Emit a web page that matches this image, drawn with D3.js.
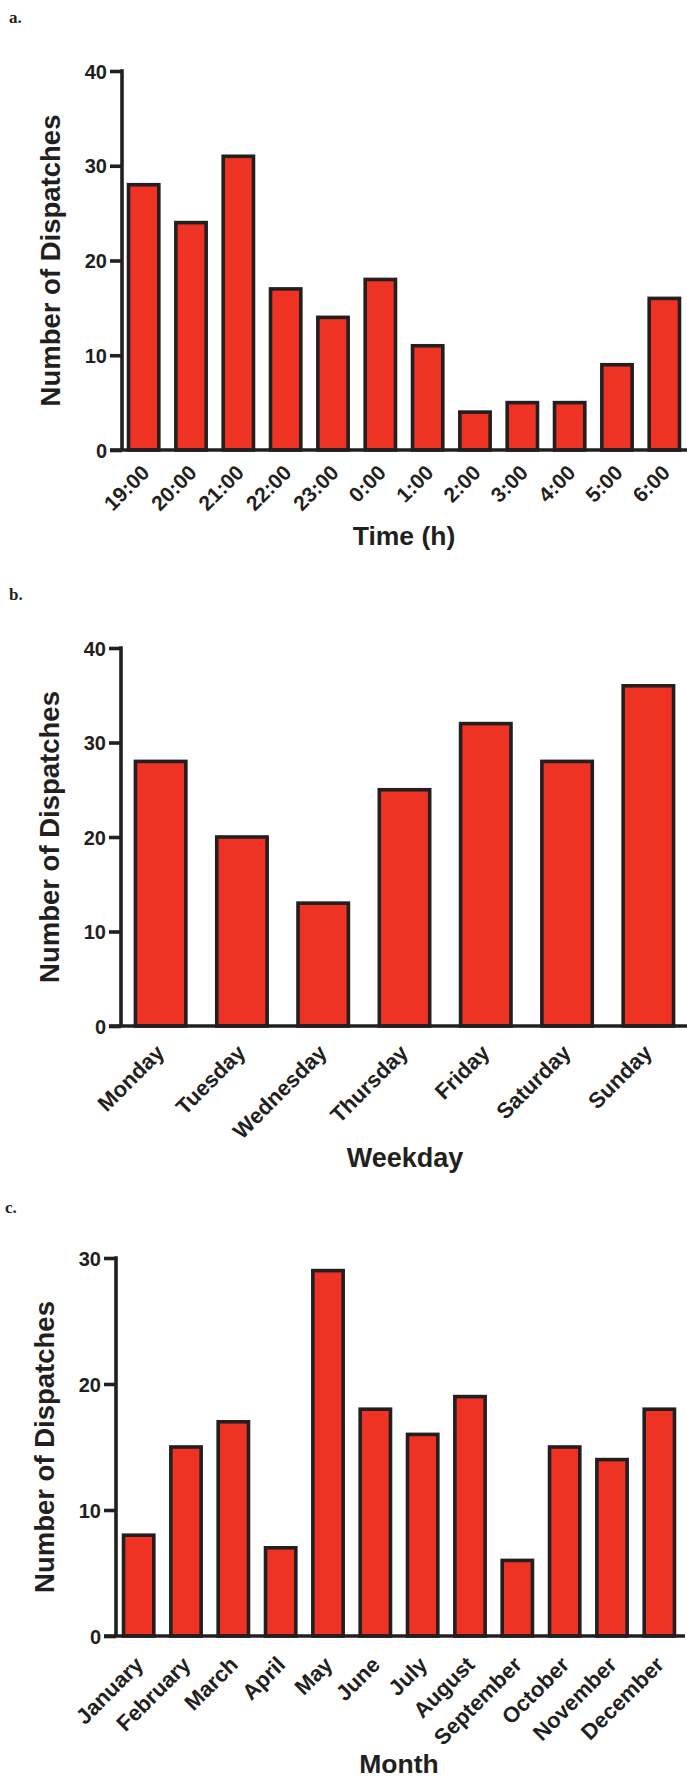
<!DOCTYPE html>
<html>
<head>
<meta charset="utf-8">
<script src="https://cdn.jsdelivr.net/npm/d3@7"></script>
<style>
  body { margin: 0; background: #fff; }
  svg text { font-family: "Liberation Sans", Arial, sans-serif; font-weight: bold; fill: #231f20; }
</style>
</head>
<body>
<div id="chart"></div>
<script>
// data
const hours = ["19:00", "20:00", "21:00", "22:00", "23:00", "0:00", "1:00", "2:00", "3:00", "4:00", "5:00", "6:00"];
const hourCounts = [28, 24, 31, 17, 14, 18, 11, 4, 5, 5, 9, 16];

const weekdays = ["Monday", "Tuesday", "Wednesday", "Thursday", "Friday", "Saturday", "Sunday"];
const weekdayCounts = [28, 20, 13, 25, 32, 28, 36];

const months = ["January", "February", "March", "April", "May", "June", "July", "August", "September", "October", "November", "December"];
const monthCounts = [8, 15, 17, 7, 29, 18, 16, 19, 6, 15, 14, 18];

const ticksA = [0, 10, 20, 30, 40];
const ticksB = [0, 10, 20, 30, 40];
const ticksC = [0, 10, 20, 30];

const W = 687, H = 1780;
const ink = "#231f20", red = "#ee3325";

const svg = d3.select("#chart").append("svg")
    .attr("width", W)
    .attr("height", H);

function panel(opt) {
    const g = svg.append("g");

    // panel letter
    g.append("text")
        .attr("x", opt.letterX).attr("y", opt.letterY)
        .text(opt.letter)
        .style("font-family", "'Liberation Serif', 'Times New Roman', serif")
        .style("font-size", "17px");

    const x = d3.scaleBand()
        .domain(opt.cats)
        .range([opt.left, opt.right])
        .paddingInner(opt.pad)
        .paddingOuter(opt.pad / 2);

    const y = d3.scaleLinear()
        .domain([0, d3.max(opt.ticks)])
        .range([opt.bottom, opt.top]);

    // bars
    g.append("g")
        .selectAll("rect")
        .data(opt.values)
        .join("rect")
        .attr("x", (d, i) => x(opt.cats[i]))
        .attr("y", d => y(d))
        .attr("width", x.bandwidth())
        .attr("height", d => y(0) - y(d))
        .attr("fill", red)
        .attr("stroke", ink)
        .attr("stroke-width", 3.6);

    // y axis
    const yAxis = g.append("g")
        .attr("transform", `translate(${opt.axisX},0)`)
        .call(d3.axisLeft(y).tickValues(opt.ticks).tickSize(12).tickPadding(3).tickSizeOuter(0));
    yAxis.select(".domain").remove();
    yAxis.selectAll(".tick line").attr("stroke", ink).attr("stroke-width", 3.6);
    yAxis.selectAll(".tick text").style("font-size", "20px").attr("dy", "0.36em");

    g.append("line")
        .attr("x1", opt.axisX).attr("x2", opt.axisX)
        .attr("y1", y.range()[1] - 1.8).attr("y2", y(0))
        .attr("stroke", ink).attr("stroke-width", 3.6);
    g.append("line")
        .attr("x1", opt.axisX - 12).attr("x2", opt.axisEnd)
        .attr("y1", y(0)).attr("y2", y(0))
        .attr("stroke", ink).attr("stroke-width", 3.6);

    // rotated category labels
    g.append("g")
        .selectAll("text")
        .data(opt.cats)
        .join("text")
        .attr("transform", d => `translate(${x(d) + x.bandwidth() / 2 + opt.labelDx},${y(0) + opt.labelDy}) rotate(-45)`)
        .attr("text-anchor", "end")
        .style("font-size", opt.labelSize)
        .text(d => d);

    // axis titles
    g.append("text")
        .attr("transform", `translate(${opt.yTitleX},${(opt.top + opt.bottom) / 2}) rotate(-90)`)
        .attr("text-anchor", "middle")
        .style("font-size", "27.5px")
        .text("Number of Dispatches");

    g.append("text")
        .attr("x", opt.xTitleX).attr("y", opt.xTitleY)
        .attr("text-anchor", "middle")
        .style("font-size", opt.xTitleSize)
        .text(opt.xTitle);
}

panel({
    letter: "a.", letterX: 9, letterY: 23,
    cats: hours, values: hourCounts, ticks: ticksA,
    left: 120, right: 688, pad: 0.36, axisX: 122, axisEnd: 687,
    top: 71, bottom: 450, yTitleX: 60,
    labelSize: "21px", labelDx: 7, labelDy: 24,
    xTitle: "Time (h)", xTitleX: 404, xTitleY: 545, xTitleSize: "26.5px"
});

panel({
    letter: "b.", letterX: 9, letterY: 600,
    cats: weekdays, values: weekdayCounts, ticks: ticksB,
    left: 120, right: 689, pad: 0.38, axisX: 121, axisEnd: 687,
    top: 648, bottom: 1026, yTitleX: 59,
    labelSize: "22px", labelDx: 5, labelDy: 28,
    xTitle: "Weekday", xTitleX: 405, xTitleY: 1167, xTitleSize: "27px"
});

panel({
    letter: "c.", letterX: 5, letterY: 1213,
    cats: months, values: monthCounts, ticks: ticksC,
    left: 115, right: 683, pad: 0.36, axisX: 116, axisEnd: 685,
    top: 1258, bottom: 1636, yTitleX: 54,
    labelSize: "22px", labelDx: 6, labelDy: 30,
    xTitle: "Month", xTitleX: 399, xTitleY: 1773, xTitleSize: "26.5px"
});
</script>
</body>
</html>
